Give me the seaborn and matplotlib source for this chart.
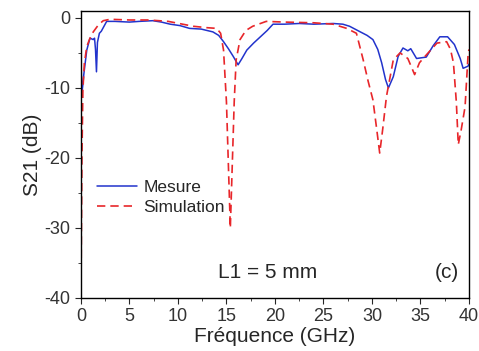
import numpy as np
import pandas as pd
import matplotlib
matplotlib.use("Agg")
import matplotlib.pyplot as plt
import seaborn as sns
from matplotlib.ticker import MultipleLocator, AutoMinorLocator

# measured S21 (GHz, dB)
meas_f = [0.0, 0.1, 0.2, 0.3, 0.6, 0.93, 1.27, 1.4, 1.5, 1.6,
          1.7, 1.9, 2.1, 2.65, 3.5, 5, 6, 7.4, 8.3, 9.2,
          10.2, 11.2, 12.4, 13.6, 14.2, 14.7, 15.2, 15.7, 16.2, 16.6,
          17.1, 17.8, 18.5, 19.2, 19.8, 21, 22.5, 24, 26, 27,
          27.7, 28.8, 29.5, 30.1, 30.6, 31.0, 31.4, 31.7, 32.2, 32.7,
          33.2, 33.7, 34.0, 34.6, 35.1, 35.6, 36.3, 37.0, 37.8, 38.5,
          39.1, 39.4, 39.9, 40]
meas_db = [-6.0, -10.7, -9.5, -8.0, -4.6, -2.9, -3.1, -2.9, -4.5, -7.7,
           -3.5, -2.2, -1.9, -0.5, -0.5, -0.6, -0.5, -0.4, -0.6, -0.9,
           -1.1, -1.5, -1.6, -2.0, -2.5, -3.4, -4.4, -5.5, -6.7, -5.8,
           -4.6, -3.6, -2.7, -1.8, -0.9, -0.9, -0.8, -0.9, -0.8, -0.9,
           -1.2, -2.0, -2.5, -3.1, -4.5, -6.4, -8.8, -10.0, -8.4, -5.5,
           -4.3, -4.7, -4.4, -5.8, -5.7, -5.6, -4.0, -2.7, -2.7, -3.8,
           -5.8, -7.2, -6.9, -6.6]

# simulated S21
sim_f = [0.0, 0.05, 0.1, 0.2, 0.35, 0.6, 0.9, 1.27, 1.8, 2.3,
         3.0, 5, 7, 9, 11.6, 13, 14, 14.4, 14.7, 15.0,
         15.2, 15.4, 15.6, 15.8, 16.0, 16.4, 17.0, 17.7, 19.1, 21,
         24, 26, 27.4, 28.4, 29.1, 29.6, 30.1, 30.5, 30.8, 31.1,
         31.5, 32.2, 32.9, 33.7, 34.4, 34.9, 35.6, 36.7, 37.7, 38.1,
         38.4, 38.7, 38.9, 39.2, 39.6, 39.9, 40]
sim_db = [-40, -30, -20, -10.3, -6.5, -4.1, -3.0, -2.0, -1.0, -0.4,
          -0.2, -0.3, -0.3, -0.5, -1.2, -1.4, -1.5, -2.2, -4.6, -12,
          -21, -30, -21, -12, -6, -3.1, -1.8, -1.2, -0.5, -0.6,
          -0.7, -0.9, -1.5, -2.2, -6, -9, -11.7, -16, -19.3, -16,
          -11.2, -6, -5.0, -5.8, -8.1, -6.4, -5.3, -3.6, -3.4, -4.5,
          -6.4, -12, -18.1, -16, -12.7, -5.5, -4.5]

meas = pd.DataFrame({"f": meas_f, "s21": meas_db})
sim = pd.DataFrame({"f": sim_f, "s21": sim_db})

sns.set_style("ticks")
plt.rcParams['font.family'] = ['Liberation Sans', 'DejaVu Sans']
plt.rcParams['axes.unicode_minus'] = False

fig = plt.figure(figsize=(4.79, 3.51), dpi=100)
ax = fig.add_axes([0.169, 0.151, 0.81, 0.818])

sns.lineplot(data=meas, x="f", y="s21", ax=ax, sort=False, estimator=None,
             color="#2233cc", linewidth=1.1, label="Mesure")
sns.lineplot(data=sim, x="f", y="s21", ax=ax, sort=False, estimator=None,
             color="#e8262a", linewidth=1.2, label="Simulation")
ax.lines[1].set_dashes((5, 3))

ax.set_xlim(0, 40)
ax.set_ylim(-40, 1)
ax.xaxis.set_major_locator(MultipleLocator(5))
ax.xaxis.set_minor_locator(AutoMinorLocator(2))
ax.yaxis.set_major_locator(MultipleLocator(10))
ax.yaxis.set_minor_locator(AutoMinorLocator(2))
ax.tick_params(which="major", direction="out", length=4, labelsize=13,
               labelcolor="#333333")
ax.tick_params(which="minor", direction="out", length=2.5)
for s in ax.spines.values():
    s.set_visible(True)
    s.set_color("black")
    s.set_linewidth(1)

ax.set_xlabel("Fréquence (GHz)", fontsize=15, labelpad=1)
ax.set_ylabel("S21 (dB)", fontsize=15, labelpad=2)

leg = ax.legend(loc="center left", bbox_to_anchor=(0.0, 0.35), frameon=False,
                fontsize=12.5, handlelength=2.3, handletextpad=0.4,
                labelspacing=0.3)
leg.get_lines()[1].set_dashes((5, 3))

ax.text(0.48, 0.09, "L1 = 5 mm", transform=ax.transAxes, fontsize=15,
        ha="center", va="center")
ax.text(0.975, 0.09, "(c)", transform=ax.transAxes, fontsize=15,
        ha="right", va="center")

fig.savefig("out.png", dpi=100)
